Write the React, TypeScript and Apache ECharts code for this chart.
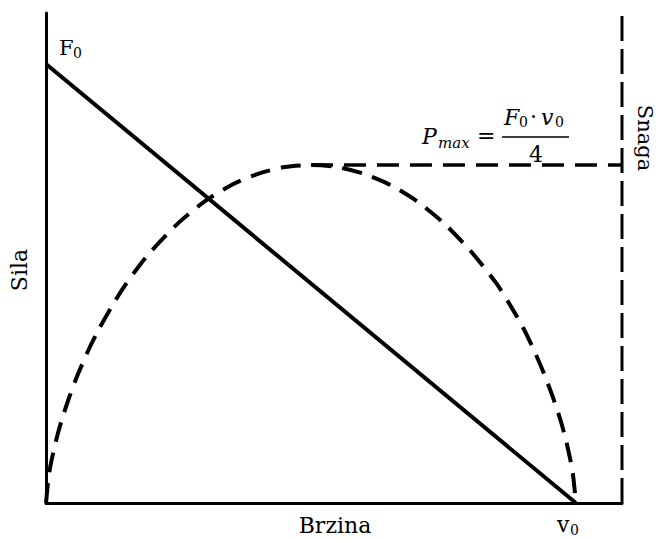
import React, { useEffect, useRef } from "react";
import * as echarts from "echarts";

// Force–velocity line (normalised: v/v0, F/F0)
const forceV = [0, 1];
const forceF = [1, 0];

// Power curve (normalised: v/v0, P/Pmax)
const powerV = [0, 0.005, 0.01, 0.02, 0.03, 0.045, 0.06, 0.08, 0.1, 0.125, 0.15, 0.175, 0.2, 0.25, 0.3, 0.35, 0.4, 0.45, 0.5, 0.55, 0.6, 0.65, 0.7, 0.75, 0.8, 0.85, 0.875, 0.9, 0.92, 0.94, 0.955, 0.97, 0.98, 0.99, 0.995, 1.0];
const powerP = [0, 0.078, 0.123, 0.191, 0.247, 0.318, 0.38, 0.452, 0.515, 0.584, 0.646, 0.7, 0.748, 0.829, 0.893, 0.941, 0.974, 0.994, 1.0, 0.994, 0.974, 0.941, 0.893, 0.829, 0.748, 0.65, 0.588, 0.52, 0.455, 0.382, 0.32, 0.25, 0.194, 0.124, 0.078, 0];

// Pmax reference line and right (power) axis position
const pmaxV = [0.5, 1.087];
const pmaxP = [1, 1];
const rightAxisV = 1.087;

const xMax = 1.087;
const forceMax = 1.116;
const powerMax = 1.45;

const SERIF = "DejaVu Serif";

export default function App() {
  const ref = useRef<HTMLDivElement>(null);

  useEffect(() => {
    if (!ref.current) return;
    const chart = echarts.init(ref.current, undefined, { renderer: "svg" });

    const txt = (
      text: string,
      x: number,
      y: number,
      size: number,
      opts: any = {}
    ) => ({
      type: "text",
      x,
      y,
      rotation: opts.rotation || 0,
      style: {
        text,
        fontSize: size,
        fontFamily: SERIF,
        fontStyle: opts.italic ? "italic" : "normal",
        fill: "#000",
        align: opts.align || "left",
        verticalAlign: "middle",
      },
    });

    chart.setOption({
      animation: false,
      grid: { left: 46, right: 36, top: 13, bottom: 38 },
      xAxis: {
        type: "value",
        min: 0,
        max: xMax,
        axisLine: { show: true, onZero: false, lineStyle: { color: "#000", width: 3 } },
        axisTick: { show: false },
        axisLabel: { show: false },
        splitLine: { show: false },
      },
      yAxis: [
        {
          type: "value",
          min: 0,
          max: forceMax,
          axisLine: { show: true, onZero: false, lineStyle: { color: "#000", width: 3 } },
          axisTick: { show: false },
          axisLabel: { show: false },
          splitLine: { show: false },
        },
        {
          type: "value",
          min: 0,
          max: powerMax,
          show: false,
          splitLine: { show: false },
        },
      ],
      series: [
        {
          type: "line",
          data: forceV.map((v, i) => [v, forceF[i]]),
          symbol: "none",
          lineStyle: { color: "#000", width: 4 },
          z: 3,
        },
        {
          type: "line",
          yAxisIndex: 1,
          data: powerV.map((v, i) => [v, powerP[i]]),
          symbol: "none",
          smooth: 0.25,
          lineStyle: { color: "#000", width: 4, type: [20, 11] },
          z: 3,
        },
        {
          type: "line",
          yAxisIndex: 1,
          data: pmaxV.map((v, i) => [v, pmaxP[i]]),
          symbol: "none",
          lineStyle: { color: "#000", width: 3.5, type: [22, 11] },
          z: 2,
        },
        {
          type: "line",
          data: [
            [rightAxisV, 0],
            [rightAxisV, forceMax],
          ],
          symbol: "none",
          lineStyle: { color: "#000", width: 3, type: [25, 8] },
          z: 2,
        },
      ],
      graphic: [
        txt("F", 59, 48, 21),
        txt("0", 73, 53, 14),
        txt("Sila", 19, 270, 22, { rotation: Math.PI / 2, align: "center" }),
        txt("Snaga", 645, 138, 21, { rotation: -Math.PI / 2, align: "center" }),
        txt("Brzina", 335, 525, 22, { align: "center" }),
        txt("v", 557, 524, 22),
        txt("0", 570, 530, 14),
        // formula
        txt("P", 422, 136, 22, { italic: true }),
        txt("max", 438, 143, 15, { italic: true }),
        txt("=", 477, 135, 22),
        txt("F", 504, 117, 22, { italic: true }),
        txt("0", 519, 122, 14),
        txt("·", 530, 116, 22),
        txt("v", 541, 117, 22, { italic: true }),
        txt("0", 555, 122, 14),
        {
          type: "line",
          shape: { x1: 502, y1: 137, x2: 569, y2: 137 },
          style: { stroke: "#000", lineWidth: 1.5 },
        },
        txt("4", 536, 154, 22, { align: "center" }),
      ],
    });

    return () => chart.dispose();
  }, []);

  return (
    <div
      ref={ref}
      style={{ position: "fixed", left: 0, top: 0, width: 658, height: 541, background: "#fff" }}
    />
  );
}
